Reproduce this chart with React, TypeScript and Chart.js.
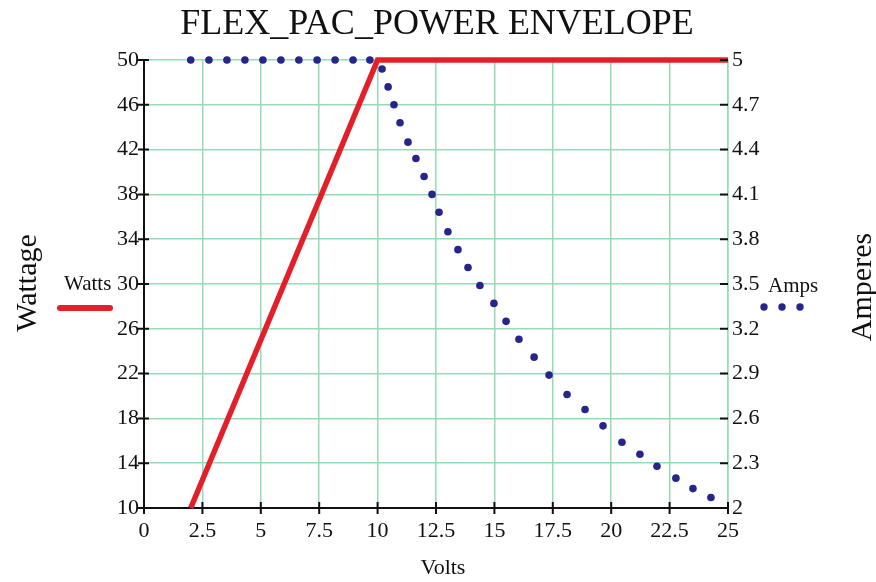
import React, { useEffect, useRef } from 'react';
import { Chart, registerables } from 'chart.js';

Chart.register(...registerables);

const chartTitle = 'FLEX_PAC_POWER ENVELOPE';
const xTitle = 'Volts';
const leftTitle = 'Wattage';
const rightTitle = 'Amperes';
const wattsLabel = 'Watts';
const ampsLabel = 'Amps';

const voltTicks = [0, 2.5, 5, 7.5, 10, 12.5, 15, 17.5, 20, 22.5, 25];
const wattTicks = [10, 14, 18, 22, 26, 30, 34, 38, 42, 46, 50];
const ampTicks = [2, 2.3, 2.6, 2.9, 3.2, 3.5, 3.8, 4.1, 4.4, 4.7, 5];

const wattsVolts = [2, 10, 25];
const wattsValues = [10, 50, 50];

const ampsVolts = [
  2.0, 2.78, 3.55, 4.32, 5.09, 5.86, 6.63, 7.41, 8.18, 8.95, 9.67,
  10.19, 10.45, 10.7, 10.96, 11.3, 11.64, 11.99, 12.33, 12.63,
  13.01, 13.44, 13.87, 14.38, 14.98, 15.5, 16.05, 16.7, 17.34,
  18.11, 18.88, 19.65, 20.46, 21.23, 21.96, 22.77, 23.5, 24.27,
];
const ampsValues = [
  5, 5, 5, 5, 5, 5, 5, 5, 5, 5, 5,
  4.94, 4.82, 4.7, 4.58, 4.45, 4.34, 4.22, 4.1, 3.98,
  3.85, 3.73, 3.61, 3.49, 3.37, 3.25, 3.13, 3.01, 2.89,
  2.76, 2.66, 2.55, 2.44, 2.36, 2.28, 2.2, 2.13, 2.07,
];

const RED = '#e3202a';
const NAVY = '#25258c';
const GRID = '#96dab6';
const INK = '#111111';
const SERIF = '"Liberation Serif", "DejaVu Serif", serif';

const fmt = (v: number) => String(Number(v.toFixed(2)));

const decorPlugin = {
  id: 'decor',
  afterDraw(chart: any) {
    const { ctx, chartArea, scales } = chart;
    const { left, right, bottom } = chartArea;
    ctx.save();
    // tick marks
    ctx.strokeStyle = INK;
    ctx.lineWidth = 2;
    ctx.beginPath();
    voltTicks.forEach((v) => {
      const px = scales.x.getPixelForValue(v);
      ctx.moveTo(px, bottom - 6);
      ctx.lineTo(px, bottom + 6);
    });
    wattTicks.forEach((v) => {
      const py = scales.y.getPixelForValue(v);
      ctx.moveTo(left - 6, py);
      ctx.lineTo(left + 5, py);
    });
    ampTicks.forEach((v) => {
      const py = scales.y1.getPixelForValue(v);
      ctx.moveTo(right - 8, py);
      ctx.lineTo(right, py);
    });
    ctx.stroke();

    ctx.fillStyle = INK;
    ctx.textAlign = 'center';
    ctx.textBaseline = 'middle';
    // title
    ctx.font = `36px ${SERIF}`;
    ctx.fillText(chartTitle, 437, 25);
    // x title
    ctx.font = `22px ${SERIF}`;
    ctx.fillText(xTitle, 443, 568);
    // axis titles rotated
    ctx.font = `30px ${SERIF}`;
    ctx.save();
    ctx.translate(28, 283);
    ctx.rotate(-Math.PI / 2);
    ctx.fillText(leftTitle, 0, 0);
    ctx.restore();
    ctx.save();
    ctx.translate(863, 287);
    ctx.rotate(-Math.PI / 2);
    ctx.fillText(rightTitle, 0, 0);
    ctx.restore();

    // legends
    ctx.font = `21px ${SERIF}`;
    ctx.textAlign = 'left';
    ctx.fillText(wattsLabel, 64, 284);
    ctx.fillText(ampsLabel, 768, 286);
    ctx.strokeStyle = RED;
    ctx.lineWidth = 6;
    ctx.lineCap = 'round';
    ctx.beginPath();
    ctx.moveTo(60, 308);
    ctx.lineTo(110, 308);
    ctx.stroke();
    ctx.fillStyle = NAVY;
    [764, 782, 800].forEach((x) => {
      ctx.beginPath();
      ctx.arc(x, 307, 3.7, 0, Math.PI * 2);
      ctx.fill();
    });
    ctx.restore();
  },
};

const bgPlugin = {
  id: 'bg',
  beforeDraw(chart: any) {
    const { ctx, width, height } = chart;
    ctx.save();
    ctx.fillStyle = '#ffffff';
    ctx.fillRect(0, 0, width, height);
    ctx.restore();
  },
};

export default function App() {
  const ref = useRef<HTMLCanvasElement | null>(null);

  useEffect(() => {
    if (!ref.current) return;
    const tickFont = { family: SERIF, size: 22 };
    const chart = new Chart(ref.current, {
      type: 'scatter',
      data: {
        datasets: [
          {
            label: wattsLabel,
            data: wattsVolts.map((x, i) => ({ x, y: wattsValues[i] })),
            showLine: true,
            borderColor: RED,
            backgroundColor: RED,
            borderWidth: 5.5,
            pointRadius: 0,
            yAxisID: 'y',
            order: 0,
            clip: false,
          } as any,
          {
            label: ampsLabel,
            data: ampsVolts.map((x, i) => ({ x, y: ampsValues[i] })),
            showLine: false,
            borderColor: NAVY,
            backgroundColor: NAVY,
            pointRadius: 3.8,
            pointBorderWidth: 0,
            yAxisID: 'y1',
            order: 1,
            clip: false,
          } as any,
        ],
      },
      options: {
        responsive: false,
        animation: false,
        layout: { padding: { top: 60, left: 0, right: 0, bottom: 0 } },
        plugins: {
          legend: { display: false },
          title: { display: false },
          tooltip: { enabled: false },
        },
        scales: {
          x: {
            type: 'linear',
            min: 0,
            max: 25,
            afterBuildTicks: (s: any) => {
              s.ticks = voltTicks.map((value) => ({ value }));
            },
            afterFit: (s: any) => {
              s.height = 74;
            },
            ticks: {
              color: INK,
              font: tickFont,
              padding: 10,
              maxRotation: 0,
              autoSkip: false,
              callback: (v: any) => fmt(Number(v)),
            },
            grid: { color: GRID, lineWidth: 1.5, drawTicks: false },
            border: { color: INK, width: 2 },
          },
          y: {
            type: 'linear',
            position: 'left',
            min: 10,
            max: 50,
            afterBuildTicks: (s: any) => {
              s.ticks = wattTicks.map((value) => ({ value }));
            },
            afterFit: (s: any) => {
              s.width = 144;
            },
            ticks: {
              color: INK,
              font: tickFont,
              padding: 5,
              autoSkip: false,
              callback: (v: any) => fmt(Number(v)),
            },
            grid: { color: GRID, lineWidth: 1.5, drawTicks: false },
            border: { color: INK, width: 2 },
          },
          y1: {
            type: 'linear',
            position: 'right',
            min: 2,
            max: 5,
            afterBuildTicks: (s: any) => {
              s.ticks = ampTicks.map((value) => ({ value }));
            },
            afterFit: (s: any) => {
              s.width = 148;
            },
            ticks: {
              color: INK,
              font: tickFont,
              padding: 4,
              autoSkip: false,
              callback: (v: any) => fmt(Number(v)),
            },
            grid: { drawOnChartArea: false, drawTicks: false },
            border: { color: GRID, width: 1.5 },
          },
        },
      },
      plugins: [bgPlugin, decorPlugin],
    } as any);
    return () => chart.destroy();
  }, []);

  return (
    <div style={{ position: 'fixed', left: 0, top: 0, width: 876, height: 582, background: '#fff' }}>
      <canvas ref={ref} width={876} height={582} style={{ display: 'block' }} />
    </div>
  );
}
